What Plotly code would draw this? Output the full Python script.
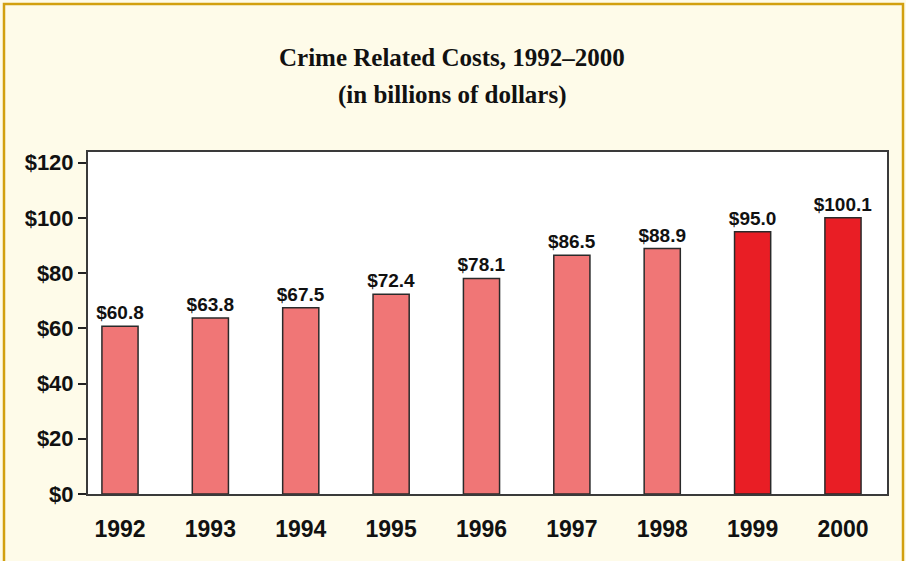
import plotly.graph_objects as go

years = ["1992", "1993", "1994", "1995", "1996", "1997", "1998", "1999", "2000"]
costs = [60.8, 63.8, 67.5, 72.4, 78.1, 86.5, 88.9, 95.0, 100.1]
labels = ["$60.8", "$63.8", "$67.5", "$72.4", "$78.1", "$86.5", "$88.9", "$95.0", "$100.1"]
y_ticks = [0, 20, 40, 60, 80, 100, 120]
y_tick_text = ["$0", "$20", "$40", "$60", "$80", "$100", "$120"]

PINK = "#F07676"
RED = "#E91E25"
colors = [PINK] * 7 + [RED] * 2

NARROW = "Liberation Sans Narrow, Liberation Sans, Arial, sans-serif"
SERIF = "Liberation Serif, Times New Roman, serif"

W, H = 906, 561
ML, MR, MT, MB = 88, 19, 152, 67
PW, PH = W - ML - MR, H - MT - MB

fig = go.Figure()
fig.add_trace(go.Bar(
    x=list(range(len(years))), y=costs,
    marker=dict(color=colors, line=dict(color="#2a2a2a", width=1.5)),
    width=0.4,
    text=labels, textposition="outside", cliponaxis=False, constraintext="none",
    textfont=dict(family=NARROW, size=19, color="#111111", weight="bold"),
    hoverinfo="skip",
))

def px_x(p):
    return (p - ML) / PW

def px_y(p):
    return (H - MB - p) / PH

fig.add_shape(type="rect", xref="paper", yref="paper",
              x0=px_x(4), x1=px_x(903), y0=px_y(575), y1=px_y(4),
              line=dict(color="#D2A010", width=2.5), layer="below")

fig.add_annotation(text="<b>Crime Related Costs, 1992–2000</b>", xref="paper", yref="paper",
                   x=px_x(452), y=px_y(58), showarrow=False, xanchor="center", yanchor="middle",
                   font=dict(family=SERIF, size=25, color="#111111"))
fig.add_annotation(text="<b>(in billions of dollars)</b>", xref="paper", yref="paper",
                   x=px_x(452), y=px_y(95), showarrow=False, xanchor="center", yanchor="middle",
                   font=dict(family=SERIF, size=25, color="#111111"))

fig.update_layout(
    width=W, height=H,
    margin=dict(l=ML, r=MR, t=MT, b=MB, pad=0),
    paper_bgcolor="#FEFBE9",
    plot_bgcolor="#FFFFFF",
    showlegend=False,
    bargap=0.6,
)
fig.update_xaxes(
    range=[-0.354, 8.487],
    tickmode="array", tickvals=list(range(len(years))), ticktext=years,
    tickfont=dict(family=NARROW, size=23, color="#111111", weight="bold"),
    ticks="outside", ticklen=13, tickcolor="rgba(0,0,0,0)",
    showline=True, linecolor="#3a3a3a", linewidth=2, mirror=True,
    showgrid=False, zeroline=False, fixedrange=True,
)
fig.update_yaxes(
    range=[0, 123.9],
    tickmode="array", tickvals=y_ticks, ticktext=y_tick_text,
    tickfont=dict(family=NARROW, size=22, color="#111111", weight="bold"),
    ticks="outside", ticklen=8, tickwidth=2, tickcolor="#222222",
    showline=True, linecolor="#3a3a3a", linewidth=2, mirror=True,
    showgrid=False, zeroline=False, fixedrange=True,
)

fig.write_html("out.html")
